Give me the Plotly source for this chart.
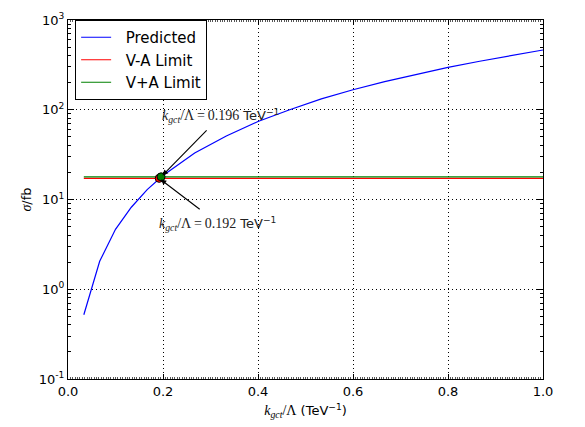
import numpy as np
import plotly.graph_objects as go

# Predicted cross section vs coupling
k_over_lambda = [0.0333, 0.0667, 0.1, 0.1333, 0.1667, 0.2, 0.2667, 0.3333, 0.4,
                 0.4667, 0.5333, 0.6, 0.6667, 0.7333, 0.8, 0.8667, 0.9333, 1.0]
sigma_pred = [0.52, 2.05, 4.65, 8.2, 12.9, 18.5, 33.0, 51.0, 74.0,
              100.0, 132.0, 167.0, 206.0, 249.0, 297.0, 347.0, 403.0, 463.0]

# Experimental limits
limit_x = [0.0333, 1.0]
sigma_va = 17.2
sigma_vpa = 17.9

# Crossing points
cross_va = 0.192
cross_vpa = 0.196

x_ticks = [0.0, 0.2, 0.4, 0.6, 0.8, 1.0]
x_ticktext = ["0.0", "0.2", "0.4", "0.6", "0.8", "1.0"]
y_ticks = [0.1, 1, 10, 100, 1000]
y_ticktext = ["10<sup>-1</sup>", "10<sup>0</sup>", "10<sup>1</sup>", "10<sup>2</sup>", "10<sup>3</sup>"]

SANS = "DejaVu Sans"
SERIF = "Liberation Serif"
PAD = "\u00a0\u00a0"

def math_label(value):
    return (f'<span style="font-family:{SERIF};font-size:14px"><i>k</i><sub><i>gct</i></sub>/Λ\u2009=\u2009{value}</span>'
            f' TeV<sup>−1</sup>')

fig = go.Figure()
fig.add_trace(go.Scatter(x=k_over_lambda, y=sigma_pred, mode="lines",
                         line=dict(color="#0000ff", width=1.2), name=PAD + "Predicted"))
fig.add_trace(go.Scatter(x=limit_x, y=[sigma_va, sigma_va], mode="lines",
                         line=dict(color="#ff0000", width=1.2), name=PAD + "V-A Limit"))
fig.add_trace(go.Scatter(x=limit_x, y=[sigma_vpa, sigma_vpa], mode="lines",
                         line=dict(color="#008000", width=1.2), name=PAD + "V+A Limit"))
fig.add_trace(go.Scatter(x=[cross_va], y=[sigma_va], mode="markers", showlegend=False,
                         marker=dict(color="#ff0000", size=8, line=dict(color="black", width=1))))
fig.add_trace(go.Scatter(x=[cross_vpa], y=[sigma_vpa], mode="markers", showlegend=False,
                         marker=dict(color="#008000", size=8, line=dict(color="black", width=1))))

# Arrows pointing at the crossings
fig.add_annotation(x=cross_vpa, y=np.log10(sigma_vpa), xref="x", yref="y", text="",
                   showarrow=True, ax=47, ay=-48, arrowhead=2, arrowsize=1,
                   arrowwidth=1.1, arrowcolor="black", standoff=2)
fig.add_annotation(x=cross_va, y=np.log10(sigma_va), xref="x", yref="y", text="",
                   showarrow=True, ax=42, ay=32, arrowhead=2, arrowsize=1,
                   arrowwidth=1.1, arrowcolor="black", standoff=2)
fig.add_annotation(x=0.193, y=np.log10(85), xref="x", yref="y", text=math_label("0.196"),
                   showarrow=False, xanchor="left", yanchor="middle",
                   font=dict(family=SANS, size=13, color="#222"))
fig.add_annotation(x=0.187, y=np.log10(5.4), xref="x", yref="y", text=math_label("0.192"),
                   showarrow=False, xanchor="left", yanchor="middle",
                   font=dict(family=SANS, size=13, color="#222"))

axis_common = dict(showline=True, linecolor="black", linewidth=1, mirror="allticks",
                   ticks="inside", tickcolor="black", zeroline=False,
                   showgrid=True, gridcolor="black", griddash="1px,3px", gridwidth=1,
                   tickfont=dict(family=SANS, size=13, color="black"))

fig.update_xaxes(range=[0, 1], tickvals=x_ticks, ticktext=x_ticktext, ticklen=5,
                 minor=dict(ticks="inside", dtick=0.005, ticklen=2, tickcolor="#555", showgrid=False),
                 title=dict(text=f'<span style="font-family:{SERIF};font-size:14px"><i>k</i><sub><i>gct</i></sub>/Λ</span> (TeV<sup>−1</sup>)',
                            font=dict(family=SANS, size=13, color="black"), standoff=8),
                 **axis_common)
fig.update_yaxes(type="log", range=[-1, 3], tickvals=y_ticks, ticktext=y_ticktext, ticklen=6,
                 minor=dict(ticks="inside", ticklen=3, tickcolor="black", showgrid=False,
                            tickvals=[m * 10.0 ** e for e in range(-1, 3) for m in range(2, 10)]),
                 title=dict(text=f'<span style="font-family:{SERIF};font-size:14px"><i>σ</i></span>/fb',
                            font=dict(family=SANS, size=13, color="black"), standoff=4),
                 **axis_common)

fig.update_layout(
    width=585, height=427,
    margin=dict(l=68, r=42, t=11, b=46),
    plot_bgcolor="white", paper_bgcolor="white",
    showlegend=True,
    legend=dict(x=0.015, y=1.0, xanchor="left", yanchor="top",
                bordercolor="black", borderwidth=1, bgcolor="white",
                font=dict(family=SANS, size=15, color="black"),
                tracegroupgap=0, itemwidth=30),
)

fig.write_html("out.html")
